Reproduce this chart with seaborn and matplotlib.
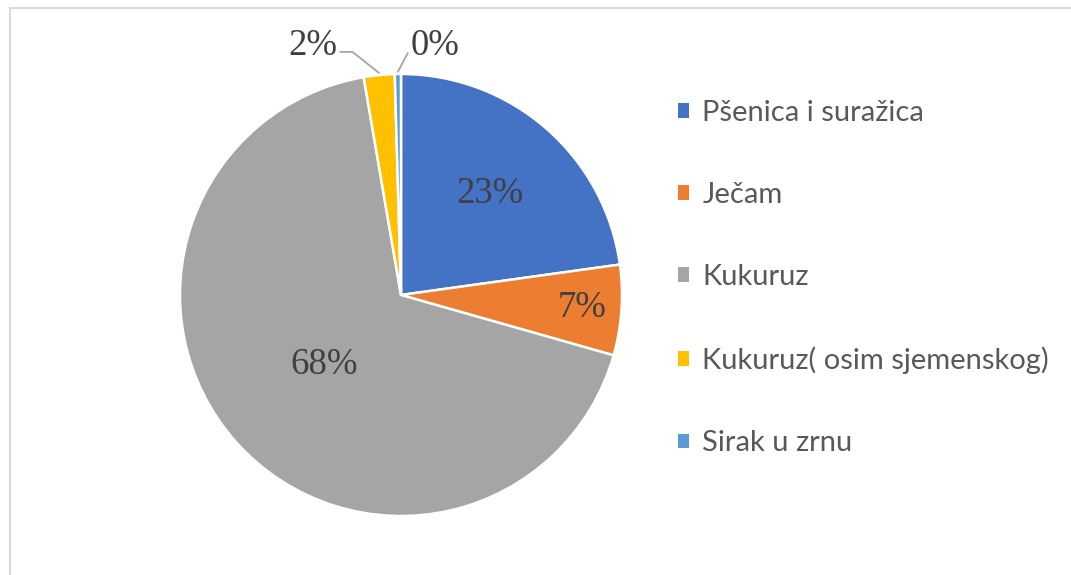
import numpy as np
import matplotlib
matplotlib.use("Agg")
import matplotlib.pyplot as plt
from matplotlib.patches import Patch, Rectangle
import seaborn as sns

categories = ["Pšenica i suražica", "Ječam", "Kukuruz", "Kukuruz( osim sjemenskog)", "Sirak u zrnu"]
values = [22.8, 6.6, 67.9, 2.25, 0.45]
labels = ["23%", "7%", "68%", "2%", "0%"]
colors = ["#4472C4", "#ED7D31", "#A5A5A5", "#FFC000", "#5B9BD5"]

sns.set_theme(style="white")
plt.rcParams["font.family"] = ["Lato", "DejaVu Sans"]

W, H = 1071, 575
fig = plt.figure(figsize=(W / 100, H / 100), dpi=100)
fig.patch.set_facecolor("white")

# chart frame (only left/top visible)
fig.patches.append(Rectangle((10 / W, -0.2), 1.5, (H - 8) / H + 0.2, transform=fig.transFigure,
                             fill=False, edgecolor="#D9D9D9", lw=1.5))

cx, cy, r = 401, 295, 221
ax = fig.add_axes([(cx - r) / W, (H - cy - r) / H, 2 * r / W, 2 * r / H])
wedges, _ = ax.pie(values, colors=colors, startangle=90, counterclock=False,
                   wedgeprops=dict(edgecolor="white", linewidth=1.8), radius=1.0)
ax.set_xlim(-1, 1)
ax.set_ylim(-1, 1)
ax.set_aspect("equal")
ax.axis("off")

total = sum(values)
cum = np.cumsum([0] + values)
mids = [(cum[i] + values[i] / 2) / total * 360 for i in range(len(values))]

label_font = dict(family=["Liberation Serif", "DejaVu Serif"], size=26.5, color="#404040")
inner_dist = [0.61, 0.82, 0.47]
for i, d in enumerate(inner_dist):
    a = np.deg2rad(mids[i])
    ax.text(d * np.sin(a), d * np.cos(a), labels[i], ha="center", va="center", **label_font)

# outside labels with leader lines
line_kw = dict(color="#A5A5A5", lw=1.3, clip_on=False)
# 2%
a = np.deg2rad(mids[3])
E = np.array([np.sin(a), np.cos(a)]) * 1.01
elbow = E + np.array([-0.12, 0.095])
start = elbow + np.array([-0.055, 0])
ax.plot([start[0], elbow[0], E[0]], [start[1], elbow[1], E[1]], **line_kw)
ax.text(start[0] - 0.012, start[1] + 0.028, labels[3], ha="right", va="center", **label_font)
# 0%
a = np.deg2rad(mids[4])
E = np.array([np.sin(a), np.cos(a)]) * 1.01
tip = E + np.array([0.045, 0.085])
ax.plot([tip[0], E[0]], [tip[1], E[1]], **line_kw)
ax.text(tip[0] + 0.015, tip[1] + 0.033, labels[4], ha="left", va="center", **label_font)

handles = [Patch(facecolor=c, edgecolor="none") for c in colors]
leg = fig.legend(handles, categories, loc="upper left", bbox_to_anchor=(666 / W, (H - 88) / H),
                 frameon=False, fontsize=21, handlelength=0.4, handleheight=0.4,
                 handletextpad=0.45, labelspacing=1.93, borderaxespad=0)
for t in leg.get_texts():
    t.set_color("#595959")

fig.savefig("out.png", dpi=100, facecolor="white")
